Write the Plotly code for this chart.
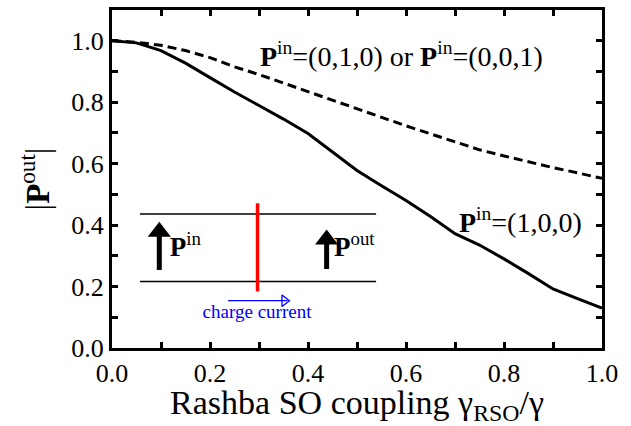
import plotly.graph_objects as go

# ---------------- data ----------------
x_vals = [0.0, 0.05, 0.10, 0.15, 0.20, 0.25, 0.30, 0.35, 0.40, 0.45, 0.50,
          0.55, 0.60, 0.65, 0.70, 0.75, 0.80, 0.85, 0.90, 0.95, 1.00]
p100 = [1.000, 0.993, 0.968, 0.927, 0.880, 0.833, 0.789, 0.745, 0.698, 0.637, 0.578,
        0.528, 0.480, 0.428, 0.372, 0.335, 0.290, 0.242, 0.192, 0.161, 0.130]
p010 = [1.000, 0.995, 0.985, 0.968, 0.945, 0.915, 0.890, 0.862, 0.835, 0.808, 0.780,
        0.750, 0.723, 0.697, 0.670, 0.645, 0.625, 0.605, 0.587, 0.570, 0.552]
tick_vals = [0.0, 0.1, 0.2, 0.3, 0.4, 0.5, 0.6, 0.7, 0.8, 0.9, 1.0]
tick_text = ["0.0", "", "0.2", "", "0.4", "", "0.6", "", "0.8", "", "1.0"]

SERIF = "Liberation Serif"
NOHOVER = dict(hoverinfo="skip", showlegend=False)

fig = go.Figure()

# curves
fig.add_trace(go.Scatter(x=x_vals, y=p010, mode="lines",
                         line=dict(color="black", width=3, dash="9px,5px"), **NOHOVER))
fig.add_trace(go.Scatter(x=x_vals, y=p100, mode="lines",
                         line=dict(color="black", width=3), **NOHOVER))

# inset schematic: rails and barrier
fig.add_trace(go.Scatter(x=[0.057, 0.539, None, 0.057, 0.539],
                         y=[0.436, 0.436, None, 0.2165, 0.2165], mode="lines",
                         line=dict(color="black", width=1.5), **NOHOVER))
fig.add_trace(go.Scatter(x=[0.297, 0.297], y=[0.184, 0.471], mode="lines",
                         line=dict(color="red", width=3.5), **NOHOVER))
# black spin arrows (shaft + head)
fig.add_trace(go.Scatter(x=[0.0965, 0.0965, None, 0.438, 0.438],
                         y=[0.254, 0.385, None, 0.257, 0.360], mode="lines",
                         line=dict(color="black", width=5), **NOHOVER))
fig.add_trace(go.Scatter(x=[0.0965, 0.438], y=[0.378, 0.353], mode="markers",
                         marker=dict(symbol="triangle-up", size=20, color="black"), **NOHOVER))
# blue current arrow
fig.add_trace(go.Scatter(x=[0.237, 0.358], y=[0.154, 0.154], mode="lines",
                         line=dict(color="blue", width=1.3), **NOHOVER))
fig.add_trace(go.Scatter(x=[0.352], y=[0.154], mode="markers",
                         marker=dict(symbol="triangle-right-open", size=10, color="blue",
                                     line=dict(color="blue", width=1.3)), **NOHOVER))

# texts
fig.add_trace(go.Scatter(x=[0.118, 0.453], y=[0.32, 0.32], mode="text",
                         text=["<b>P</b><sup>in</sup>", "<b>P</b><sup>out</sup>"],
                         textposition="middle right",
                         textfont=dict(family=SERIF, size=27, color="black"), **NOHOVER))
fig.add_trace(go.Scatter(x=[0.296], y=[0.112], mode="text", text=["charge current"],
                         textposition="middle center",
                         textfont=dict(family=SERIF, size=19, color="blue"), **NOHOVER))
fig.add_trace(go.Scatter(x=[0.302, 0.708], y=[0.94, 0.40], mode="text",
                         text=["<b>P</b><sup>in</sup>=(0,1,0) or <b>P</b><sup>in</sup>=(0,0,1)",
                               "<b>P</b><sup>in</sup>=(1,0,0)"],
                         textposition="middle right", cliponaxis=False,
                         textfont=dict(family=SERIF, size=28, color="black"), **NOHOVER))


def axis_style(rng, title, tsize, standoff):
    return dict(
        range=rng,
        showline=True, linecolor="black", linewidth=3, mirror="ticks",
        ticks="inside", ticklen=6, tickwidth=3, tickcolor="black",
        tickmode="array", tickvals=tick_vals, ticktext=tick_text,
        showgrid=False, zeroline=False,
        tickfont=dict(family=SERIF, size=26, color="black"),
        title=dict(text=title, standoff=standoff,
                   font=dict(family=SERIF, size=tsize, color="black")),
    )


fig.update_layout(
    template="none",
    width=631, height=426,
    margin=dict(l=112, r=29, t=10, b=78, autoexpand=False),
    xaxis=axis_style([0, 1.0], "Rashba SO coupling γ<sub>RSO</sub>/γ", 34, 4),
    yaxis=axis_style([0, 1.1], "|<b>P</b><sup>out</sup>|", 33, 12),
    showlegend=False,
)

fig.write_html("out.html", config={"displayModeBar": False},
               post_script="document.body.style.margin='0';")
